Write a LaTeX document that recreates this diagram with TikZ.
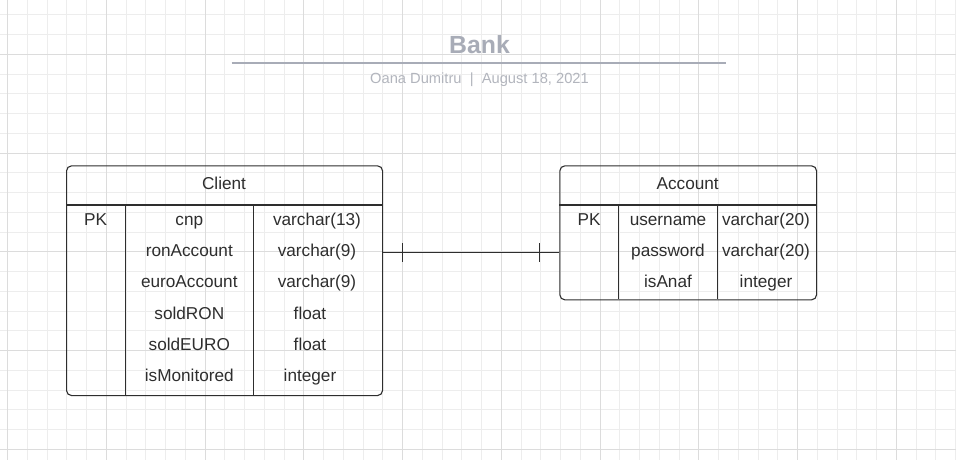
\documentclass[tikz,border=0pt]{standalone}
\usepackage{fontspec}
\setmainfont{Liberation Sans}
\usetikzlibrary{calc}

\definecolor{gridminor}{HTML}{EDEDED}
\definecolor{gridmajor}{HTML}{DCDCDC}
\definecolor{titlegray}{HTML}{A8ACB7}
\definecolor{bygray}{HTML}{B2B5BD}
\definecolor{ink}{HTML}{2E2E2E}

\tikzset{
 table/.style={draw=ink, line width=1.1pt, rounded corners=5pt, inner sep=0pt, anchor=north west},
 cell/.style={text=ink, anchor=base, inner sep=0pt, font=\fontsize{17.2}{20}\selectfont},
 link/.style={draw=ink, line width=1pt}
}

\begin{document}
\begin{tikzpicture} [x=1pt, y=-1pt]
\useasboundingbox (0,0) rectangle (956,460);
\fill[white] (0,0) rectangle (956,460);
% grid
\foreach \i in {0,...,48} {
 \draw[gridminor] ({7.3+19.75*\i},0) --++(0,460);
}
\foreach \j in {0,...,23} {
 \draw[gridminor] (0,{14.5+19.75*\j}) --++(956,0);
}
\foreach \i in {0,...,9} {
 \draw[gridmajor] ({7.3+98.75*\i},0) --++(0,460);
}
\foreach \j in {0,...,4} {
 \draw[gridmajor] (0,{54+98.75*\j}) --++(956,0);
}
% title
\node[anchor=base, text=titlegray, font=\fontsize{24.8}{28}\selectfont\bfseries] (title) at (479.5,53.3) {Bank};
\draw[titlegray, line width=2pt] (231.7,62.7) -- (725.7,62.7);
\node[anchor=base, text=bygray, font=\fontsize{14.7}{17}\selectfont] (byline) at (479.5,83.3) {Oana Dumitru\ \ |\ \ August 18, 2021};

% Client
\node[table, minimum width=316pt, minimum height=229.7pt] (client) at (66,165.3) {};
\draw[link, line width=1.1pt] (66,205) -- (382,205);
\draw[link, line width=1.1pt] (125.3,205) -- (125.3,395);
\draw[link, line width=1.1pt] (253.3,205) -- (253.3,395);
\node[cell] (chead) at (224,189) {Client};
\node[cell] (cpk) at (95.7,225) {PK};
\foreach \name/\type/\tx [count=\r] in {cnp/varchar(13)/317, ronAccount/varchar(9)/317, euroAccount/varchar(9)/317, soldRON/float/310, soldEURO/float/310, isMonitored/integer/310} {
 \node[cell] (cname\r) at (189.3,{193.66+31.34*\r}) {\name};
 \node[cell] (ctype\r) at (\tx,{193.66+31.34*\r}) {\type};
}

% Account
\node[table, minimum width=256.7pt, minimum height=134pt] (account) at (559.3,165.3) {};
\draw[link, line width=1.1pt] (559.3,205) -- (816,205);
\draw[link, line width=1.1pt] (618.7,205) -- (618.7,299.3);
\draw[link, line width=1.1pt] (717.3,205) -- (717.3,299.3);
\node[cell] (ahead) at (687.7,189) {Account};
\node[cell] (apk) at (589,225) {PK};
\foreach \name/\type [count=\r] in {username/varchar(20), password/varchar(20), isAnaf/integer} {
 \node[cell] (aname\r) at (668,{193.66+31.34*\r}) {\name};
 \node[cell] (atype\r) at (766,{193.66+31.34*\r}) {\type};
}

% one to one
\coordinate (rel) at (470,252.5);
\draw[link] (client.east |- rel) -- (account.west |- rel);
\draw[link] ($(client.east |- rel)+(19.7,-9.5)$) --++(0,19);
\draw[link] ($(account.west |- rel)+(-20,-9.5)$) --++(0,19);
\end{tikzpicture}
\end{document}
